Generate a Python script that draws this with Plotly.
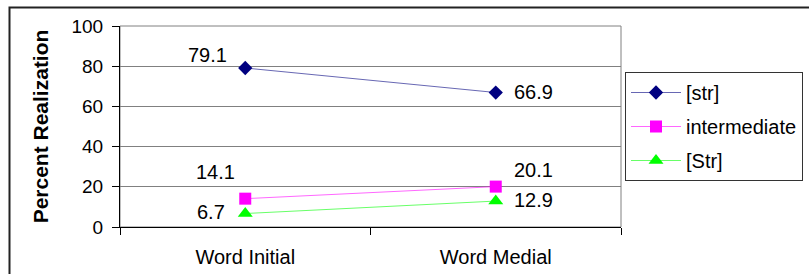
import plotly.graph_objects as go

categories = ["Word Initial", "Word Medial"]
series_names = ["[str]", "intermediate", "[Str]"]
str_vals = [79.1, 66.9]
intermediate_vals = [14.1, 20.1]
Str_vals = [6.7, 12.9]
y_ticks = [0, 20, 40, 60, 80, 100]

values = [str_vals, intermediate_vals, Str_vals]
colors = ["#000080", "#FF00FF", "#00FF00"]
symbols = ["diamond", "square", "triangle-up"]
sizes = [11, 12, 13]
# label offsets (xanchor, xshift, yshift) per series per point
label_offsets = [
    [("right", -16, 13), ("left", 16, 1)],
    [("right", -8, 27), ("left", 16, 17)],
    [("right", -18, 2), ("left", 16, 1)],
]

FONT = "Liberation Sans, Arial, sans-serif"
W, H = 809, 274
L, R, T, B = 120, 621, 26, 227

fig = go.Figure()
for i, (name, vals) in enumerate(zip(series_names, values)):
    fig.add_trace(go.Scatter(
        x=categories, y=vals, name=name, mode="lines+markers",
        line=dict(color=colors[i], width=0.6),
        marker=dict(symbol=symbols[i], size=sizes[i], color=colors[i],
                    line=dict(width=0)),
        legendgroup=f"g{i}",
    ))

annotations = []
for i, vals in enumerate(values):
    for j, v in enumerate(vals):
        xa, xs, ys = label_offsets[i][j]
        annotations.append(dict(
            x=categories[j], y=v, xref="x", yref="y", text=f"{v:.1f}",
            showarrow=False, xanchor=xa, yanchor="middle",
            xshift=xs, yshift=ys, font=dict(size=20, color="black", family=FONT),
        ))

pw, ph = R - L, B - T
def px_x(p):
    return (p - L) / pw
def px_y(p):
    return (B - p) / ph

shapes = [
    dict(type="rect", xref="paper", yref="paper", x0=0, x1=1, y0=0, y1=1,
         line=dict(color="#808080", width=1), layer="below"),
    dict(type="rect", xref="paper", yref="paper",
         x0=px_x(9.5), x1=px_x(830), y0=px_y(290), y1=px_y(7.5),
         line=dict(color="#222222", width=2)),
]

fig.update_layout(
    width=W, height=H,
    margin=dict(l=L, r=W - R, t=T, b=H - B, autoexpand=False),
    paper_bgcolor="white", plot_bgcolor="white",
    font=dict(family=FONT, size=20, color="black"),
    showlegend=True,
    legend=dict(
        x=px_x(625), xanchor="left", y=px_y(72), yanchor="top",
        xref="paper", yref="paper",
        bgcolor="white", bordercolor="#333333", borderwidth=1,
        font=dict(size=20, family=FONT, color="black"),
        traceorder="grouped", tracegroupgap=5, itemwidth=50,
    ),
    annotations=annotations,
    shapes=shapes,
)
fig.update_xaxes(
    type="category", range=[-0.5, 1.5], tickson="boundaries",
    ticks="outside", ticklen=7, tickcolor="black", tickwidth=1,
    showline=True, linecolor="black", linewidth=1,
    showgrid=False, zeroline=False,
    tickfont=dict(size=20, family=FONT), ticklabelstandoff=12,
)
fig.update_yaxes(
    range=[0, 100], tickmode="array", tickvals=y_ticks,
    ticks="outside", ticklen=7, tickcolor="black", tickwidth=1,
    showline=True, linecolor="black", linewidth=1,
    showgrid=True, gridcolor="#808080", gridwidth=1, zeroline=False,
    tickfont=dict(size=19, family=FONT), ticklabelstandoff=5,
    title=dict(text="<b>Percent Realization</b>", standoff=17,
               font=dict(size=21, family=FONT)),
)

fig.write_html("out.html",
               config={"displayModeBar": False},
               post_script="document.body.style.margin='0px';")
